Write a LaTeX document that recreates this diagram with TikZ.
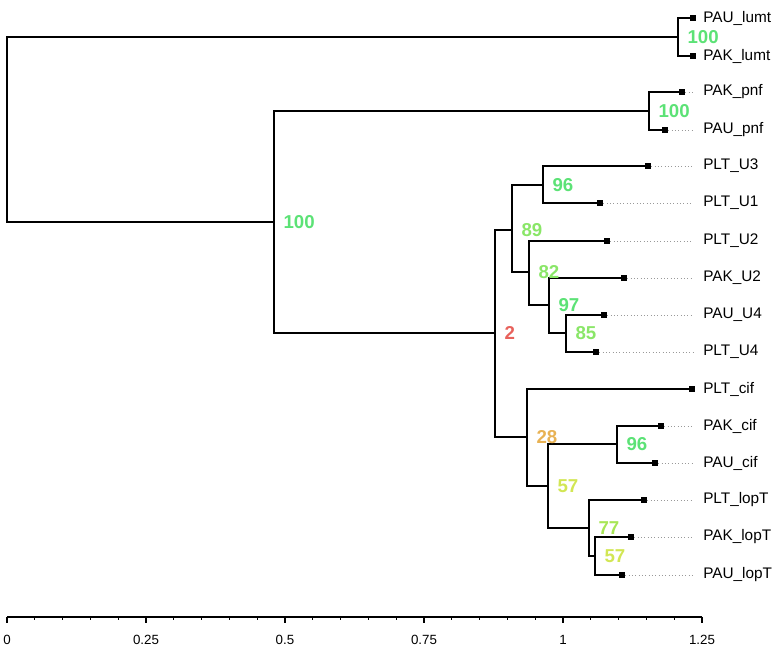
\documentclass[tikz,border=0pt]{standalone}
\usepackage{fontspec}
\setmainfont{Liberation Sans}
\usepackage{tikz}
\usetikzlibrary{positioning}
\definecolor{vert}{RGB}{92,226,118}
\definecolor{vertclair}{RGB}{138,230,104}
\definecolor{vertjaune}{RGB}{168,230,86}
\definecolor{jaune}{RGB}{210,230,84}
\definecolor{ocre}{RGB}{232,178,84}
\definecolor{rouge}{RGB}{232,98,92}
\definecolor{gris}{gray}{0.6}

\begin{document}
\begin{tikzpicture}[x=0.75pt, y=-0.75pt,
	branche/.style={line width=1.5pt},
	bout/.style={fill=black, inner sep=0pt, minimum size=4.5pt},
	pointille/.style={gris, dotted, line width=0.5pt},
	taxon/.style={anchor=west, inner xsep=7.5pt, inner ysep=0pt, font=\fontsize{11.5}{12}\selectfont},
	appui/.style={anchor=west, inner sep=0pt, xshift=7pt, font=\fontsize{14}{14}\selectfont\bfseries},
	axe/.style={line width=1.1pt}]
	\useasboundingbox (0,0) rectangle (783,648);
	% noeuds internes
	\coordinate (racine) at (7,130);
	\coordinate (lumt) at (678,37);
	\coordinate (nA) at (274,222);
	\coordinate (pnf) at (649,111);
	\coordinate (nB) at (495,333);
	\coordinate (nU) at (512,230);
	\coordinate (nUa) at (543,185);
	\coordinate (nUb) at (529,272);
	\coordinate (nUc) at (549,305);
	\coordinate (nUd) at (566,333);
	\coordinate (nC) at (527,437);
	\coordinate (nCa) at (548,486);
	\coordinate (nCb) at (617,444);
	\coordinate (nCc) at (589,528);
	\coordinate (nCd) at (595,556);
	% extremites
	\node[bout] (paulumt) at (693,18) {};
	\node[bout] (paklumt) at (693,56) {};
	\node[bout] (pakpnf) at (682,92) {};
	\node[bout] (paupnf) at (665,130) {};
	\node[bout] (pltuiii) at (648,166) {};
	\node[bout] (pltui) at (600,203) {};
	\node[bout] (pltuii) at (607,241) {};
	\node[bout] (pakuii) at (624,278) {};
	\node[bout] (pauuiv) at (604,315) {};
	\node[bout] (pltuiv) at (596,352) {};
	\node[bout] (pltcif) at (692,389) {};
	\node[bout] (pakcif) at (661,426) {};
	\node[bout] (paucif) at (655,463) {};
	\node[bout] (pltlopt) at (644,500) {};
	\node[bout] (paklopt) at (631,537) {};
	\node[bout] (paulopt) at (622,575) {};
	% branches
	\draw[branche] (racine) |- (lumt);
	\draw[branche] (racine) |- (nA);
	\draw[branche] (lumt) |- (paulumt);
	\draw[branche] (lumt) |- (paklumt);
	\draw[branche] (nA) |- (pnf);
	\draw[branche] (nA) |- (nB);
	\draw[branche] (pnf) |- (pakpnf);
	\draw[branche] (pnf) |- (paupnf);
	\draw[branche] (nB) |- (nU);
	\draw[branche] (nB) |- (nC);
	\draw[branche] (nU) |- (nUa);
	\draw[branche] (nU) |- (nUb);
	\draw[branche] (nUa) |- (pltuiii);
	\draw[branche] (nUa) |- (pltui);
	\draw[branche] (nUb) |- (pltuii);
	\draw[branche] (nUb) |- (nUc);
	\draw[branche] (nUc) |- (pakuii);
	\draw[branche] (nUc) |- (nUd);
	\draw[branche] (nUd) |- (pauuiv);
	\draw[branche] (nUd) |- (pltuiv);
	\draw[branche] (nC) |- (pltcif);
	\draw[branche] (nC) |- (nCa);
	\draw[branche] (nCa) |- (nCb);
	\draw[branche] (nCa) |- (nCc);
	\draw[branche] (nCb) |- (pakcif);
	\draw[branche] (nCb) |- (paucif);
	\draw[branche] (nCc) |- (pltlopt);
	\draw[branche] (nCc) |- (nCd);
	\draw[branche] (nCd) |- (paklopt);
	\draw[branche] (nCd) |- (paulopt);
	% taxons
	\node[taxon] (lpaulumt) at (693,18) {PAU\_lumt};
	\node[taxon] (lpaklumt) at (693,56) {PAK\_lumt};
	\node[taxon] (lpakpnf) at (693,92) {PAK\_pnf};
	\node[taxon] (lpaupnf) at (693,130) {PAU\_pnf};
	\node[taxon] (lpltuiii) at (693,166) {PLT\_U3};
	\node[taxon] (lpltui) at (693,203) {PLT\_U1};
	\node[taxon] (lpltuii) at (693,241) {PLT\_U2};
	\node[taxon] (lpakuii) at (693,278) {PAK\_U2};
	\node[taxon] (lpauuiv) at (693,315) {PAU\_U4};
	\node[taxon] (lpltuiv) at (693,352) {PLT\_U4};
	\node[taxon] (lpltcif) at (693,389) {PLT\_cif};
	\node[taxon] (lpakcif) at (693,426) {PAK\_cif};
	\node[taxon] (lpaucif) at (693,463) {PAU\_cif};
	\node[taxon] (lpltlopt) at (693,500) {PLT\_lopT};
	\node[taxon] (lpaklopt) at (693,537) {PAK\_lopT};
	\node[taxon] (lpaulopt) at (693,575) {PAU\_lopT};
	\draw[pointille] (pakpnf) -- (lpakpnf);
	\draw[pointille] (paupnf) -- (lpaupnf);
	\draw[pointille] (pltuiii) -- (lpltuiii);
	\draw[pointille] (pltui) -- (lpltui);
	\draw[pointille] (pltuii) -- (lpltuii);
	\draw[pointille] (pakuii) -- (lpakuii);
	\draw[pointille] (pauuiv) -- (lpauuiv);
	\draw[pointille] (pltuiv) -- (lpltuiv);
	\draw[pointille] (pakcif) -- (lpakcif);
	\draw[pointille] (paucif) -- (lpaucif);
	\draw[pointille] (pltlopt) -- (lpltlopt);
	\draw[pointille] (paklopt) -- (lpaklopt);
	\draw[pointille] (paulopt) -- (lpaulopt);
	% valeurs de bootstrap
	\node[appui, vert] (blumt) at (lumt) {100};
	\node[appui, vert] (bA) at (nA) {100};
	\node[appui, vert] (bpnf) at (pnf) {100};
	\node[appui, rouge] (bB) at (nB) {2};
	\node[appui, vertclair] (bU) at (nU) {89};
	\node[appui, vert] (bUa) at (nUa) {96};
	\node[appui, vertclair] (bUb) at (nUb) {82};
	\node[appui, vert] (bUc) at (nUc) {97};
	\node[appui, vertclair] (bUd) at (nUd) {85};
	\node[appui, ocre] (bC) at (nC) {28};
	\node[appui, jaune] (bCa) at (nCa) {57};
	\node[appui, vert] (bCb) at (nCb) {96};
	\node[appui, vertjaune] (bCc) at (nCc) {77};
	\node[appui, jaune] (bCd) at (nCd) {57};
	% echelle
	\coordinate (a0) at (7,617);
	\coordinate (a1) at (702,617);
	\draw[axe] (a0) -- (a1);
	\foreach \i in {0,...,25}
		\draw[line width=0.8pt] (7+27.8*\i,617) -- ++(0,3);
	\foreach \x/\lab [count=\k] in {7/0, 146/0.25, 285/0.5, 424/0.75, 563/1, 702/1.25} {
		\draw[line width=0.8pt] (\x,617) -- ++(0,6);
		\node[font=\fontsize{10}{10}\selectfont, inner sep=0pt] (g\k) at (\x,640) {\lab};
	}
\end{tikzpicture}
\end{document}
